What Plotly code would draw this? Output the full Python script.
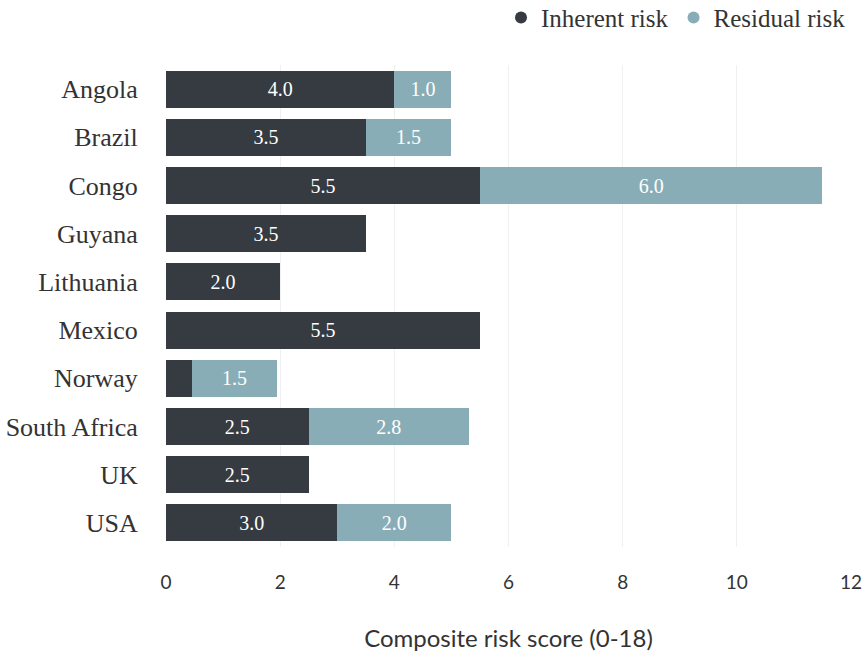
import plotly.graph_objects as go

countries = ["Angola", "Brazil", "Congo", "Guyana", "Lithuania",
             "Mexico", "Norway", "South Africa", "UK", "USA"]
inherent = [4.0, 3.5, 5.5, 3.5, 2.0, 5.5, 0.45, 2.5, 2.5, 3.0]
residual = [1.0, 1.5, 6.0, None, None, None, 1.5, 2.8, None, 2.0]
x_ticks = [0, 2, 4, 6, 8, 10, 12]

DARK = "#363b41"
LIGHT = "#89adb7"
SERIF = "Liberation Serif, DejaVu Serif, serif"
SANS = "Lato, Liberation Sans, sans-serif"


def labels(values):
    # values too narrow to hold a label are left blank
    return ["" if v is None or v < 1 else f"{v:.1f}" for v in values]


fig = go.Figure()
fig.add_trace(go.Bar(
    y=countries, x=inherent, orientation="h", name="Inherent risk",
    marker=dict(color=DARK, line=dict(width=0)),
    text=labels(inherent), textposition="inside", insidetextanchor="middle",
    textangle=0, textfont=dict(color="white", size=20, family=SERIF),
    showlegend=False, hoverinfo="x+y",
))
fig.add_trace(go.Bar(
    y=countries, x=residual, orientation="h", name="Residual risk",
    marker=dict(color=LIGHT, line=dict(width=0)),
    text=labels(residual), textposition="inside", insidetextanchor="middle",
    textangle=0, textfont=dict(color="white", size=20, family=SERIF),
    showlegend=False, hoverinfo="x+y",
))

# round legend markers
for name, color in [("Inherent risk", DARK), ("Residual risk", LIGHT)]:
    fig.add_trace(go.Scatter(
        x=[None], y=[None], mode="markers", name=name,
        marker=dict(symbol="circle", size=18, color=color),
    ))

fig.update_layout(
    width=866, height=659,
    barmode="stack", bargap=0.23,
    plot_bgcolor="white", paper_bgcolor="white",
    margin=dict(l=166, r=15, t=65, b=112, autoexpand=False),
    uniformtext=dict(minsize=10, mode="show"),
    legend=dict(
        orientation="h", x=1.0, xanchor="right",
        yref="container", y=0.973, yanchor="middle",
        traceorder="normal",
        font=dict(family=SERIF, size=25, color="#333333"),
        itemsizing="constant", itemwidth=30, tracegroupgap=0,
    ),
    xaxis=dict(
        range=[0, 12], tickvals=x_ticks, showgrid=True, gridcolor="#eef0f2",
        gridwidth=1, zeroline=False, showline=False,
        tickfont=dict(family=SANS, size=19, color="#333333"),
        ticks="outside", ticklen=18, tickcolor="white",
        title=dict(text="Composite risk score (0-18)", standoff=38,
                   font=dict(family=SANS, size=24, color="#333333")),
    ),
    yaxis=dict(
        autorange="reversed", showgrid=False, showline=False,
        tickfont=dict(family=SERIF, size=26, color="#333333"),
        ticks="outside", ticklen=22, tickcolor="white",
    ),
)

fig.write_html("out.html")
